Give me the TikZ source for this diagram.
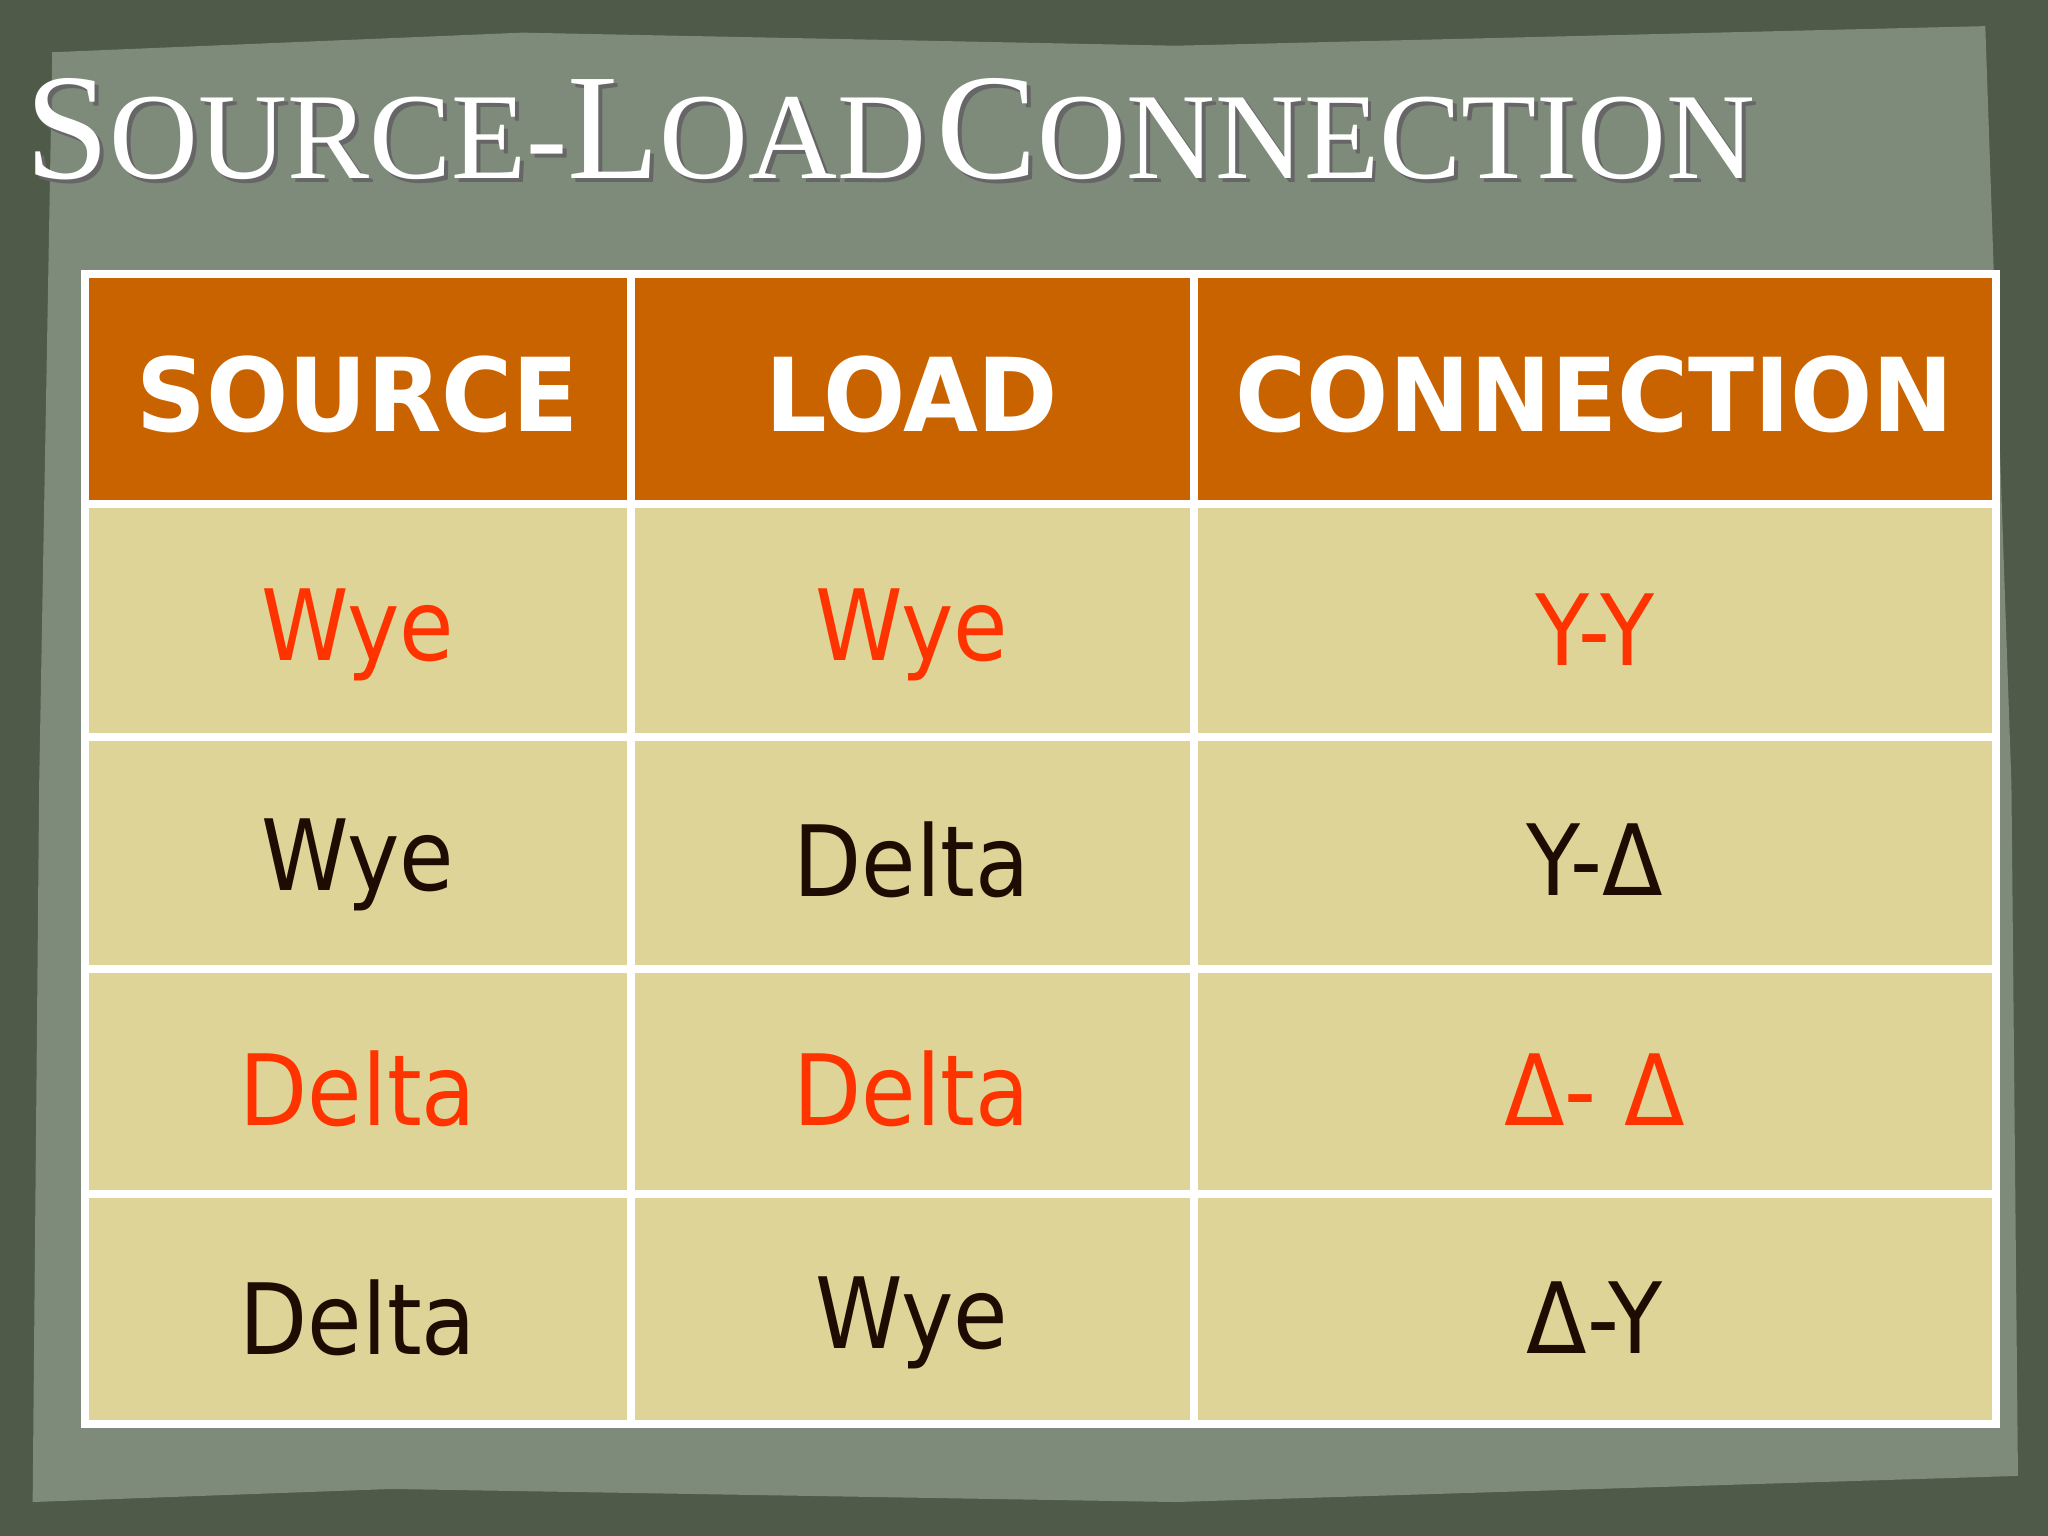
\documentclass[tikz,border=0pt]{standalone}
\usepackage{fontspec}
\setmainfont{DejaVu Sans}
\newfontfamily\titlefont{Liberation Serif}
\newfontfamily\bodyfont[FakeStretch=0.9]{DejaVu Sans}
\newfontfamily\hdrfont[FakeStretch=0.95]{DejaVu Sans Bold}
\definecolor{bgdark}{HTML}{4F5A48}
\definecolor{bglight}{HTML}{7E8B7A}
\definecolor{hdr}{HTML}{C96300}
\definecolor{cellc}{HTML}{DFD497}
\definecolor{redt}{HTML}{FF3300}
\definecolor{darkt}{HTML}{1E0C02}
\newcommand{\SC}[2]{{\fontsize{43}{47}\selectfont #1}{\fontsize{35}{39}\selectfont #2}}
\newcommand{\TitleText}{\SC{S}{OURCE-}\SC{L}{OAD}\hspace{0.3em}\SC{C}{ONNECTION}}
\begin{document}
\begin{tikzpicture}[x=0.013061cm,y=-0.013061cm,
  hcell/.style={fill=hdr,draw=white,line width=2.2pt},
  bcell/.style={fill=cellc,draw=white,line width=2.2pt},
  htext/.style={text=white,font=\hdrfont\fontsize{29}{33}\selectfont},
  rtext/.style={text=redt,font=\bodyfont\fontsize{28}{32}\selectfont},
  ktext/.style={text=darkt,font=\bodyfont\fontsize{28}{32}\selectfont}]
\useasboundingbox (0,0) rectangle (1568,1176);
\fill[bgdark] (0,0) rectangle (1568,1176);
\fill[bglight] (40,40) -- (400,25) -- (900,35) -- (1520,20) -- (1540,600) -- (1545,1130) -- (900,1150) -- (300,1140) -- (25,1150) -- (30,600) -- cycle;
\node[anchor=base west,inner sep=0pt,text=black!60,font=\titlefont] (shadow) at (22,140) {\TitleText};
\node[anchor=base west,inner sep=0pt,text=white,font=\titlefont] (title) at (19,137) {\TitleText};
\foreach \a/\b in {65/483,483/914,914/1528}{
  \draw[hcell] (\a,210) rectangle (\b,386);
}
\foreach \t/\u in {386/564,564/742,742/914,914/1090}{
  \foreach \a/\b in {65/483,483/914,914/1528}{
    \draw[bcell] (\a,\t) rectangle (\b,\u);
  }
}
\node[htext] (h1) at (274,302) {SOURCE};
\node[htext] (h2) at (698,302) {LOAD};
\node[htext] (h3) at (1221,302) {CONNECTION};
\node[rtext] (a1) at (274,486) {Wye};
\node[rtext] (a2) at (698,486) {Wye};
\node[rtext] (a3) at (1221,482) {Y-Y};
\node[ktext] (b1) at (274,662) {Wye};
\node[ktext] (b2) at (698,658) {Delta};
\node[ktext] (b3) at (1221,658) {Y-Δ};
\node[rtext] (c1) at (274,834) {Delta};
\node[rtext] (c2) at (698,834) {Delta};
\node[rtext] (c3) at (1221,834) {Δ- Δ};
\node[ktext] (d1) at (274,1009) {Delta};
\node[ktext] (d2) at (698,1013) {Wye};
\node[ktext] (d3) at (1221,1009) {Δ-Y};
\end{tikzpicture}
\end{document}
